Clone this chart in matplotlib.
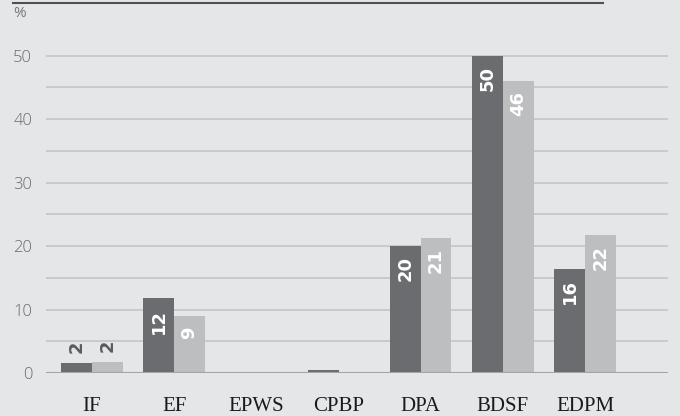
import numpy as np
import matplotlib.pyplot as plt

categories = ['IF', 'EF', 'EPWS', 'CPBP', 'DPA', 'BDSF', 'EDPM']
dark_values = [1.6, 11.8, 0, 0.5, 20.0, 50.0, 16.4]
light_values = [1.7, 9.0, 0, 0, 21.3, 46.0, 21.8]
dark_labels = ['2', '12', '', '', '20', '50', '16']
light_labels = ['2', '9', '', '', '21', '46', '22']

bg = '#e5e6e8'
dark = '#6b6c70'
light = '#bdbec0'

fig = plt.figure(figsize=(6.8, 4.16), dpi=100, facecolor=bg)
ax = fig.add_axes([46 / 680, 43 / 416, 622 / 680, 330 / 416])
ax.set_facecolor(bg)

x = np.arange(len(categories))
w = 0.375
b1 = ax.bar(x - w / 2, dark_values, w, color=dark, zorder=3)
b2 = ax.bar(x + w / 2, light_values, w, color=light, zorder=3)

# value labels: inside the top of tall bars, above short ones
for bars, labels in ((b1, dark_labels), (b2, light_labels)):
    for bar, lab in zip(bars, labels):
        if not lab:
            continue
        h = bar.get_height()
        cx = bar.get_x() + bar.get_width() / 2
        if h < 5:
            ax.annotate(lab, (cx, h), xytext=(0, 7), textcoords='offset points',
                        rotation=90, ha='center', va='bottom', color='#5a5b5f',
                        fontsize=13, fontweight='bold', family='DejaVu Sans')
        else:
            ax.annotate(lab, (cx, h), xytext=(0, -7.5), textcoords='offset points',
                        rotation=90, ha='center', va='top', color='white',
                        fontsize=13, fontweight='bold', family='DejaVu Sans')

ax.set_xlim(-0.56, 7.01)
ax.set_ylim(0, 52)
ax.set_yticks([0, 10, 20, 30, 40, 50])
ax.set_yticks([5, 15, 25, 35, 45], minor=True)
ax.grid(axis='y', which='both', color='#c4c5c7', linewidth=1.2, zorder=0)
ax.axhline(0, color='#a3a4a6', linewidth=1.5, zorder=4)

ax.set_xticks(x)
ax.set_xticklabels(categories, family='Liberation Serif', fontsize=15, color='#1a1a1a')
ax.tick_params(axis='x', length=0, pad=17)
ax.tick_params(axis='y', which='both', length=0, pad=10, labelsize=12, labelcolor='#6a6a6a')
for t in ax.get_yticklabels():
    t.set_family('Open Sans')
    t.set_fontweight('light')

for s in ax.spines.values():
    s.set_visible(False)

# heading rule and unit
fig.add_artist(plt.Line2D([13 / 680, 603 / 680], [1 - 3 / 416, 1 - 3 / 416],
                          color='#505050', linewidth=1.5))
fig.text(13 / 680, 1 - 13.5 / 416, '%', fontsize=11, color='#777777',
         family='Open Sans', va='center', ha='left')

fig.savefig('out.png', dpi=100, facecolor=bg)
